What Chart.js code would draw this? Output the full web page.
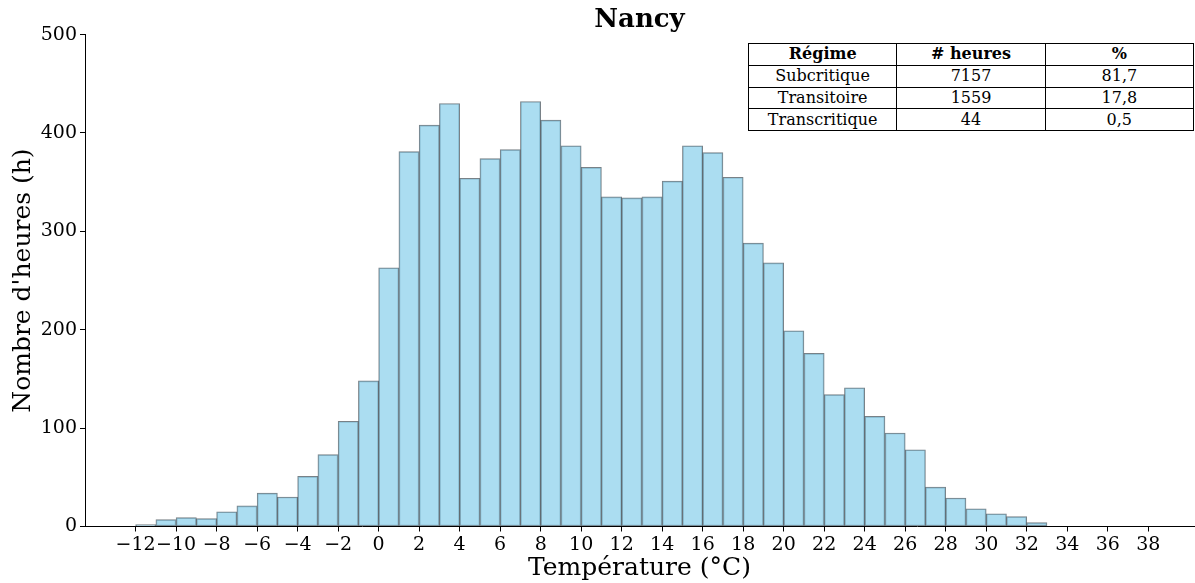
<!DOCTYPE html>
<html>
<head>
<meta charset="utf-8">
<script src="https://cdn.jsdelivr.net/npm/chart.js@4.4.0/dist/chart.umd.min.js"></script>
<style>
  html, body { margin: 0; padding: 0; background: #fff; }
  #wrap { position: relative; width: 1195px; height: 583px; }
  #c { position: absolute; left: 0; top: 0; }
  #tbl {
    position: absolute; left: 748px; top: 43px; width: 446px;
    border-collapse: collapse; font-family: 'DejaVu Serif', serif; font-size: 16px;
    color: #000; table-layout: fixed; background: #fff;
  }
  #tbl td, #tbl th { border: 1px solid #000; text-align: center; padding: 0; height: 20.75px; line-height: 20px; }
  #tbl th { font-weight: bold; }
</style>
</head>
<body>
<div id="wrap">
  <canvas id="c" width="1195" height="583"></canvas>
  <table id="tbl">
    <thead></thead>
    <tbody></tbody>
  </table>
</div>
<script>
// ---- Data ----
const chartTitle = 'Nancy';
const xAxisTitle = 'Température (°C)';
const yAxisTitle = "Nombre d'heures (h)";

// Lower edge of each 1 °C bin
const binStarts = [-12, -11, -10, -9, -8, -7, -6, -5, -4, -3, -2, -1,
                   0, 1, 2, 3, 4, 5, 6, 7, 8, 9,
                   10, 11, 12, 13, 14, 15, 16, 17, 18, 19,
                   20, 21, 22, 23, 24, 25, 26, 27, 28, 29,
                   30, 31, 32];
// Hours in each bin
const hours = [2, 7, 9, 8, 15, 21, 34, 30, 51, 73, 107, 148,
               263, 381, 408, 430, 354, 374, 383, 432, 413, 387,
               365, 335, 334, 335, 351, 387, 380, 355, 288, 268,
               199, 176, 134, 141, 112, 95, 78, 40, 29, 18,
               13, 10, 4];

const xTickValues = [-12, -10, -8, -6, -4, -2, 0, 2, 4, 6, 8, 10, 12, 14, 16, 18,
                     20, 22, 24, 26, 28, 30, 32, 34, 36, 38];
const yTickValues = [0, 100, 200, 300, 400, 500];

const tableHeader = ['Régime', '# heures', '%'];
const tableRegimes = ['Subcritique', 'Transitoire', 'Transcritique'];
const tableHours = ['7157', '1559', '44'];
const tablePct = ['81,7', '17,8', '0,5'];

// ---- Table ----
const thead = document.querySelector('#tbl thead');
const hr = document.createElement('tr');
tableHeader.forEach(h => { const th = document.createElement('th'); th.textContent = h; hr.appendChild(th); });
thead.appendChild(hr);
const tbody = document.querySelector('#tbl tbody');
tableRegimes.forEach((r, i) => {
  const tr = document.createElement('tr');
  [r, tableHours[i], tablePct[i]].forEach(v => { const td = document.createElement('td'); td.textContent = v; tr.appendChild(td); });
  tbody.appendChild(tr);
});

// ---- Chart ----
const serif = "'DejaVu Serif', serif";
const points = binStarts.map((b, i) => ({ x: b + 0.5, y: hours[i] }));

// centre the title over the plotting area (like matplotlib)
const centerTitle = {
  id: 'centerTitle',
  afterLayout(chart) {
    const t = chart.titleBlock;
    if (t) {
      t.left = chart.chartArea.left;
      t.right = chart.chartArea.right;
      t.width = t.right - t.left;
    }
  }
};

new Chart(document.getElementById('c'), {
  type: 'bar',
  data: {
    datasets: [{
      data: points,
      backgroundColor: 'rgba(135,206,235,0.7)',
      borderColor: 'rgba(30,45,55,0.6)',
      borderWidth: 1,
      barPercentage: 1.0,
      categoryPercentage: 1.0,
      borderSkipped: false
    }]
  },
  plugins: [centerTitle],
  options: {
    responsive: false,
    devicePixelRatio: 1,
    animation: false,
    layout: { padding: { left: 0, right: 1, top: 0, bottom: 0 } },
    plugins: {
      legend: { display: false },
      tooltip: { enabled: false },
      title: {
        display: true,
        text: chartTitle,
        color: '#000',
        font: { family: serif, size: 26, weight: 'bold', lineHeight: 1.1 },
        padding: { top: 6, bottom: 0 }
      }
    },
    scales: {
      x: {
        type: 'linear',
        min: -14.5,
        max: 40.26,
        offset: false,
        afterFit: s => { s.height = 56.5; },
        afterBuildTicks: s => { s.ticks = xTickValues.map(v => ({ value: v })); },
        grid: { display: true, drawOnChartArea: false, drawTicks: true, tickLength: 5, color: '#000', offset: false },
        border: { display: true, color: '#000', width: 1 },
        ticks: {
          color: '#000', padding: 2, maxRotation: 0, autoSkip: false,
          font: { family: serif, size: 19 },
          callback: v => String(v).replace('-', '\u2212')
        },
        title: {
          display: true, text: xAxisTitle, color: '#000',
          font: { family: serif, size: 25 }, padding: { top: 0, bottom: 0 }
        }
      },
      y: {
        type: 'linear',
        min: 0,
        max: 500,
        afterFit: s => { s.width = 85; },
        afterBuildTicks: s => { s.ticks = yTickValues.map(v => ({ value: v })); },
        grid: { display: true, drawOnChartArea: false, drawTicks: true, tickLength: 5, color: '#000' },
        border: { display: true, color: '#000', width: 1 },
        ticks: { color: '#000', padding: 3, font: { family: serif, size: 19 } },
        title: {
          display: true, text: yAxisTitle, color: '#000',
          font: { family: serif, size: 25 }, padding: { top: 8, bottom: 0 }
        }
      }
    }
  }
});
</script>
</body>
</html>
